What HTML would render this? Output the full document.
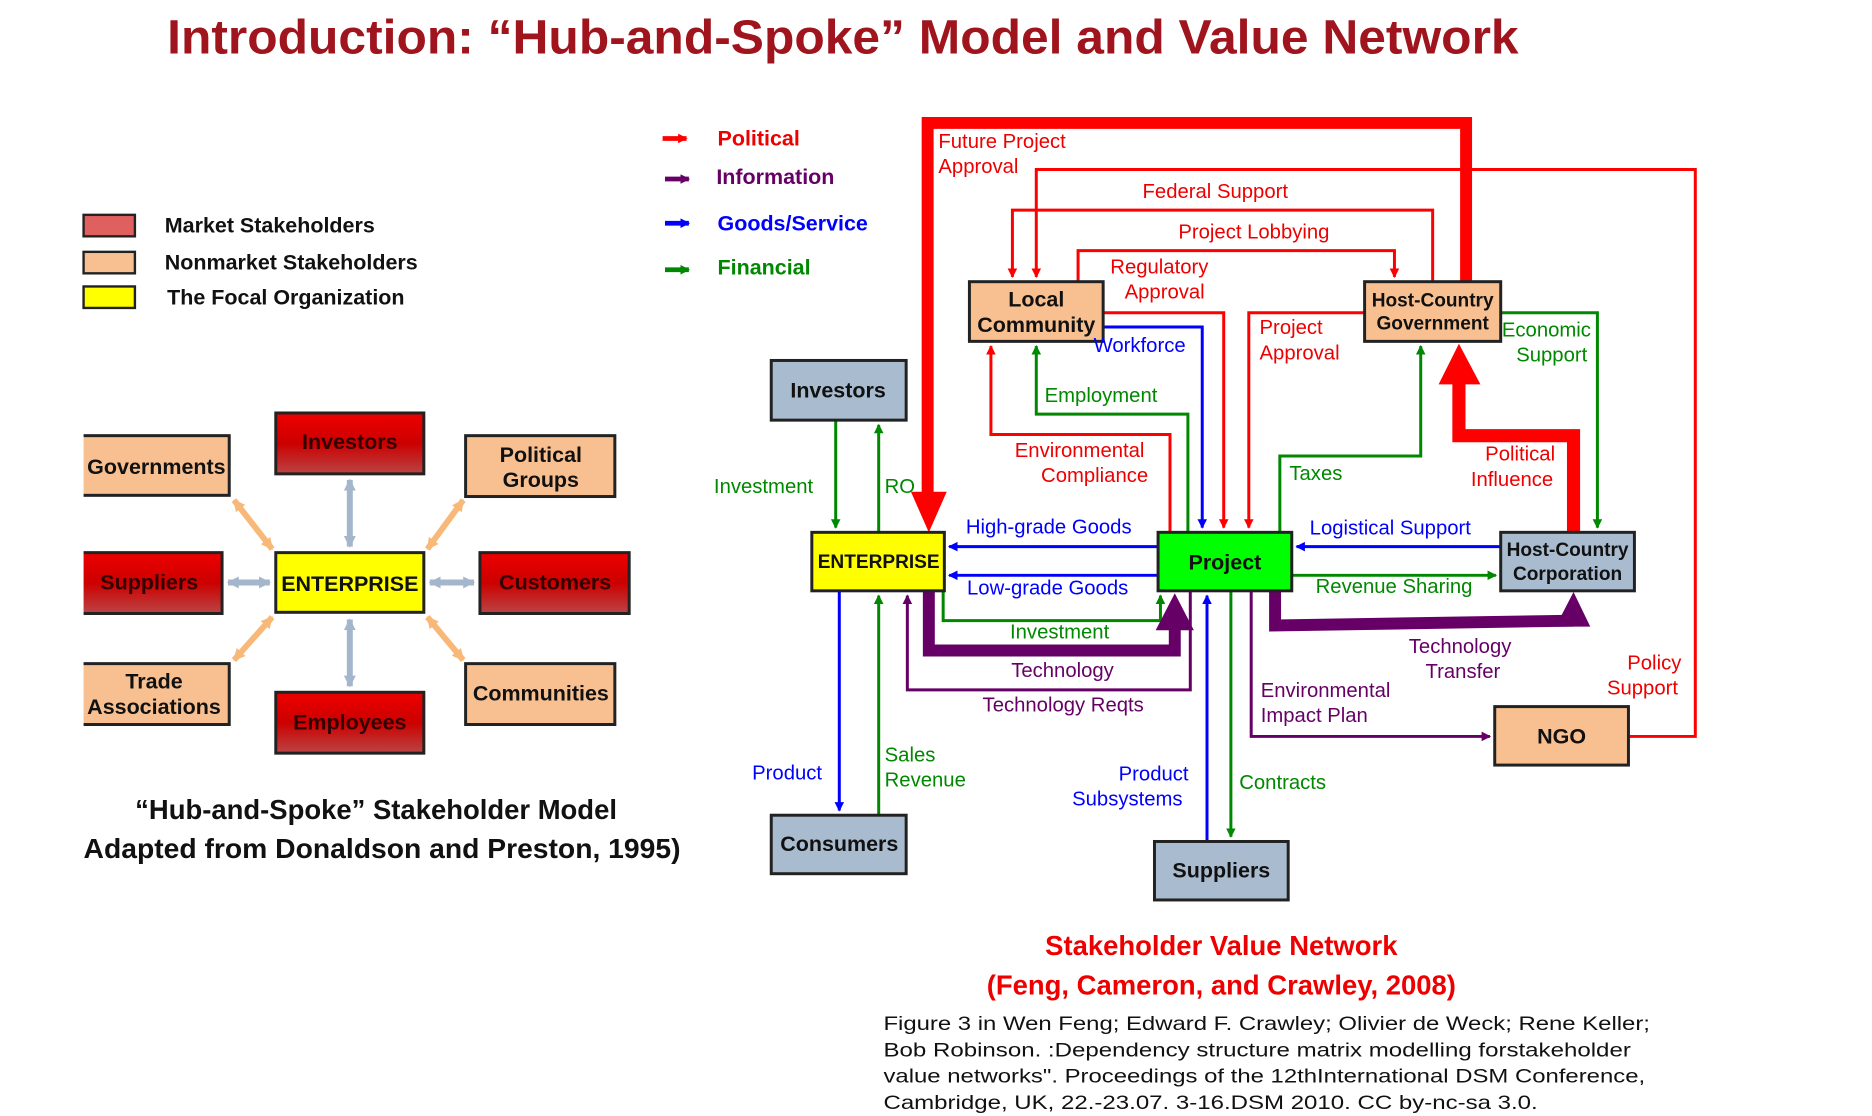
<!DOCTYPE html>
<html><head><meta charset="utf-8"><style>
html,body{margin:0;padding:0;background:#fff;}
svg{display:block;}
text{font-family:"Liberation Sans",sans-serif;}
</style></head><body>
<svg width="1872" height="1116" viewBox="0 0 1568 935" preserveAspectRatio="none" xmlns="http://www.w3.org/2000/svg">
<defs>
<marker id="ar" markerWidth="8" markerHeight="8" refX="7" refY="4" orient="auto" markerUnits="userSpaceOnUse"><path d="M0,0 L8,4 L0,8 z" fill="#f00"/></marker>
<marker id="ab" markerWidth="8" markerHeight="8" refX="7" refY="4" orient="auto" markerUnits="userSpaceOnUse"><path d="M0,0 L8,4 L0,8 z" fill="#00f"/></marker>
<marker id="ag" markerWidth="8" markerHeight="8" refX="7" refY="4" orient="auto" markerUnits="userSpaceOnUse"><path d="M0,0 L8,4 L0,8 z" fill="#080"/></marker>
<marker id="ap" markerWidth="8" markerHeight="8" refX="7" refY="4" orient="auto" markerUnits="userSpaceOnUse"><path d="M0,0 L8,4 L0,8 z" fill="#606"/></marker>
<marker id="al" markerWidth="10" markerHeight="10" refX="9" refY="5" orient="auto-start-reverse" markerUnits="userSpaceOnUse"><path d="M0,0 L10,5 L0,10 z" fill="#a3b6cb"/></marker>
<marker id="ao" markerWidth="10" markerHeight="10" refX="9" refY="5" orient="auto-start-reverse" markerUnits="userSpaceOnUse"><path d="M0,0 L10,5 L0,10 z" fill="#f8b878"/></marker>
<linearGradient id="red" x1="0" y1="0" x2="0" y2="1"><stop offset="0" stop-color="#e00"/><stop offset="0.5" stop-color="#c00"/><stop offset="1" stop-color="#b44"/></linearGradient>
</defs>

<text x="140" y="45" font-size="40" font-weight="bold" fill="#a0141e" textLength="1132" lengthAdjust="spacingAndGlyphs">Introduction: “Hub-and-Spoke” Model and Value Network</text>

<rect x="70" y="180" width="43" height="18" fill="#e06060" stroke="#222" stroke-width="2"/>
<rect x="70" y="211" width="43" height="18" fill="#f8c090" stroke="#222" stroke-width="2"/>
<rect x="70" y="240" width="43" height="18" fill="#ff0" stroke="#222" stroke-width="2"/>
<g font-size="18" font-weight="bold" fill="#111">
<text x="138" y="195">Market Stakeholders</text>
<text x="138" y="226">Nonmarket Stakeholders</text>
<text x="140" y="255">The Focal Organization</text>
</g>

<g stroke-width="5" fill="none">
<line x1="293" y1="402" x2="293" y2="458" stroke="#a3b6cb" marker-start="url(#al)" marker-end="url(#al)"/>
<line x1="293" y1="519" x2="293" y2="575" stroke="#a3b6cb" marker-start="url(#al)" marker-end="url(#al)"/>
<line x1="191" y1="488" x2="226" y2="488" stroke="#a3b6cb" marker-start="url(#al)" marker-end="url(#al)"/>
<line x1="360" y1="488" x2="397" y2="488" stroke="#a3b6cb" marker-start="url(#al)" marker-end="url(#al)"/>
<line x1="196" y1="419" x2="228" y2="460" stroke="#f8b878" marker-start="url(#ao)" marker-end="url(#ao)"/>
<line x1="388" y1="419" x2="358" y2="460" stroke="#f8b878" marker-start="url(#ao)" marker-end="url(#ao)"/>
<line x1="228" y1="517" x2="196" y2="553" stroke="#f8b878" marker-start="url(#ao)" marker-end="url(#ao)"/>
<line x1="358" y1="517" x2="388" y2="553" stroke="#f8b878" marker-start="url(#ao)" marker-end="url(#ao)"/>
</g>
<g stroke="#222" stroke-width="2.5">
<rect x="66" y="365" width="126" height="50" fill="#f8c090"/>
<rect x="231" y="346" width="124" height="51" fill="url(#red)"/>
<rect x="390" y="365" width="125" height="51" fill="#f8c090"/>
<rect x="66" y="463" width="120" height="51" fill="url(#red)"/>
<rect x="231" y="463" width="124" height="50" fill="#ff0"/>
<rect x="402" y="463" width="125" height="51" fill="url(#red)"/>
<rect x="66" y="556" width="126" height="51" fill="#f8c090"/>
<rect x="231" y="580" width="124" height="51" fill="url(#red)"/>
<rect x="390" y="556" width="125" height="51" fill="#f8c090"/>
</g>
<g font-size="18" font-weight="bold" fill="#111" text-anchor="middle">
<text x="131" y="397">Governments</text>
<text x="293" y="376" fill="#300">Investors</text>
<text x="453" y="387">Political</text><text x="453" y="408">Groups</text>
<text x="125" y="494" fill="#300">Suppliers</text>
<text x="293" y="495">ENTERPRISE</text>
<text x="465" y="494" fill="#300">Customers</text>
<text x="129" y="577">Trade</text><text x="129" y="598">Associations</text>
<text x="293" y="611" fill="#300">Employees</text>
<text x="453" y="587">Communities</text>
</g>
<rect x="55" y="340" width="15" height="300" fill="#fff"/>
<g font-size="23" font-weight="bold" fill="#111">
<text x="315" y="686" text-anchor="middle">“Hub-and-Spoke” Stakeholder Model</text>
<text x="70" y="719" textLength="500" lengthAdjust="spacingAndGlyphs">Adapted from Donaldson and Preston, 1995)</text>
</g>

<g stroke-width="4">
<line x1="555" y1="116" x2="575" y2="116" stroke="#f00" marker-end="url(#ar)"/>
<line x1="557" y1="150" x2="577" y2="150" stroke="#606" marker-end="url(#ap)"/>
<line x1="557" y1="187" x2="577" y2="187" stroke="#00f" marker-end="url(#ab)"/>
<line x1="557" y1="226" x2="577" y2="226" stroke="#080" marker-end="url(#ag)"/>
</g>
<g font-size="18" font-weight="bold">
<text x="601" y="122" fill="#e00">Political</text>
<text x="600" y="154" fill="#606">Information</text>
<text x="601" y="193" fill="#00f">Goods/Service</text>
<text x="601" y="230" fill="#080">Financial</text>
</g>

<g fill="none" stroke-width="2.5">
<polyline points="1364,617 1420,617 1420,142 868,142 868,232" stroke="#f00" marker-end="url(#ar)"/>
<polyline points="1200,236 1200,176 848,176 848,232" stroke="#f00" marker-end="url(#ar)"/>
<polyline points="903,236 903,210 1168,210 1168,232" stroke="#f00" marker-end="url(#ar)"/>
<polyline points="924,262 1025,262 1025,442" stroke="#f00" marker-end="url(#ar)"/>
<polyline points="1143,262 1046,262 1046,442" stroke="#f00" marker-end="url(#ar)"/>
<polyline points="924,274 1007,274 1007,442" stroke="#00f" marker-end="url(#ab)"/>
<polyline points="995,446 995,347 868,347 868,290" stroke="#080" marker-end="url(#ag)"/>
<polyline points="980,446 980,364 830,364 830,290" stroke="#f00" marker-end="url(#ar)"/>
<polyline points="1072,446 1072,382 1190,382 1190,290" stroke="#080" marker-end="url(#ag)"/>
<polyline points="1257,262 1338,262 1338,442" stroke="#080" marker-end="url(#ag)"/>
<line x1="970" y1="458" x2="795" y2="458" stroke="#00f" marker-end="url(#ab)"/>
<line x1="970" y1="482" x2="795" y2="482" stroke="#00f" marker-end="url(#ab)"/>
<line x1="1257" y1="458" x2="1086" y2="458" stroke="#00f" marker-end="url(#ab)"/>
<line x1="1082" y1="482" x2="1253" y2="482" stroke="#080" marker-end="url(#ag)"/>
<line x1="700" y1="352" x2="700" y2="442" stroke="#080" marker-end="url(#ag)"/>
<line x1="736" y1="446" x2="736" y2="356" stroke="#080" marker-end="url(#ag)"/>
<line x1="703" y1="495" x2="703" y2="679" stroke="#00f" marker-end="url(#ab)"/>
<line x1="736" y1="683" x2="736" y2="499" stroke="#080" marker-end="url(#ag)"/>
<polyline points="790,495 790,520 972,520 972,499" stroke="#080" marker-end="url(#ag)"/>
<polyline points="997,495 997,578 760,578 760,499" stroke="#606" marker-end="url(#ap)"/>
<polyline points="1048,495 1048,617 1248,617" stroke="#606" marker-end="url(#ap)"/>
<line x1="1011" y1="705" x2="1011" y2="499" stroke="#00f" marker-end="url(#ab)"/>
<line x1="1031" y1="495" x2="1031" y2="701" stroke="#080" marker-end="url(#ag)"/>
</g>
<polyline points="777,420 777,103 1228,103 1228,236" fill="none" stroke="#f00" stroke-width="10"/>
<polygon points="763,412 793,412 778,446" fill="#f00"/>
<polyline points="1318,446 1318,365 1222,365 1222,318" fill="none" stroke="#f00" stroke-width="11"/>
<polygon points="1205,322 1240,322 1222,288" fill="#f00"/>
<polyline points="778,495 778,545 984,545 984,525" fill="none" stroke="#606" stroke-width="10"/>
<polygon points="968,528 1000,528 984,497" fill="#606"/>
<polyline points="1068,495 1068,524 1318,520" fill="none" stroke="#606" stroke-width="10"/>
<polygon points="1303,525 1332,525 1318,496" fill="#606"/>

<g stroke="#222" stroke-width="2.5">
<rect x="812" y="236" width="112" height="50" fill="#f8c090"/>
<rect x="1143" y="236" width="114" height="50" fill="#f8c090"/>
<rect x="646" y="302" width="113" height="50" fill="#a9bccf"/>
<rect x="680" y="446" width="111" height="49" fill="#ff0"/>
<rect x="970" y="446" width="112" height="49" fill="#0f0"/>
<rect x="1257" y="446" width="112" height="49" fill="#a9bccf"/>
<rect x="1252" y="592" width="112" height="49" fill="#f8c090"/>
<rect x="646" y="683" width="113" height="49" fill="#a9bccf"/>
<rect x="967" y="705" width="112" height="49" fill="#a9bccf"/>
</g>
<g font-weight="bold" fill="#111" text-anchor="middle">
<text x="868" y="257" font-size="18">Local</text><text x="868" y="278" font-size="18">Community</text>
<text x="1200" y="257" font-size="16">Host-Country</text><text x="1200" y="276" font-size="16">Government</text>
<text x="702" y="333" font-size="18">Investors</text>
<text x="736" y="476" font-size="16">ENTERPRISE</text>
<text x="1026" y="477" font-size="18">Project</text>
<text x="1313" y="466" font-size="16">Host-Country</text><text x="1313" y="486" font-size="16">Corporation</text>
<text x="1308" y="623" font-size="18">NGO</text>
<text x="703" y="713" font-size="18">Consumers</text>
<text x="1023" y="735" font-size="18">Suppliers</text>
</g>

<g font-size="17">
<g fill="#e00">
<text x="786" y="124">Future Project</text><text x="786" y="145">Approval</text>
<text x="957" y="166">Federal Support</text>
<text x="987" y="200">Project Lobbying</text>
<text x="930" y="229">Regulatory</text><text x="942" y="250">Approval</text>
<text x="1055" y="280">Project</text><text x="1055" y="301">Approval</text>
<text x="850" y="383">Environmental</text><text x="872" y="404">Compliance</text>
<text x="1244" y="386">Political</text><text x="1232" y="407">Influence</text>
<text x="1363" y="561">Policy</text><text x="1346" y="582">Support</text>
</g>
<g fill="#080">
<text x="875" y="337">Employment</text>
<text x="1258" y="282">Economic</text><text x="1270" y="303">Support</text>
<text x="1080" y="402">Taxes</text>
<text x="598" y="413">Investment</text>
<text x="741" y="413">RO</text>
<text x="1102" y="497">Revenue Sharing</text>
<text x="846" y="535">Investment</text>
<text x="741" y="638">Sales</text><text x="741" y="659">Revenue</text>
<text x="1038" y="661">Contracts</text>
</g>
<g fill="#00f">
<text x="916" y="295">Workforce</text>
<text x="809" y="447">High-grade Goods</text>
<text x="810" y="498">Low-grade Goods</text>
<text x="1097" y="448">Logistical Support</text>
<text x="630" y="653">Product</text>
<text x="937" y="654">Product</text><text x="898" y="675">Subsystems</text>
</g>
<g fill="#606">
<text x="847" y="567">Technology</text>
<text x="823" y="596">Technology Reqts</text>
<text x="1180" y="547">Technology</text><text x="1194" y="568">Transfer</text>
<text x="1056" y="584">Environmental</text><text x="1056" y="605">Impact Plan</text>
</g>
</g>

<g font-size="23" font-weight="bold" fill="#e00" text-anchor="middle">
<text x="1023" y="800">Stakeholder Value Network</text>
<text x="1023" y="833">(Feng, Cameron, and Crawley, 2008)</text>
</g>
<g font-size="16.5" fill="#111">
<text x="740" y="863" textLength="642" lengthAdjust="spacingAndGlyphs">Figure 3 in Wen Feng; Edward F. Crawley; Olivier de Weck; Rene Keller;</text>
<text x="740" y="885" textLength="626" lengthAdjust="spacingAndGlyphs">Bob Robinson. :Dependency structure matrix modelling forstakeholder</text>
<text x="740" y="907" textLength="638" lengthAdjust="spacingAndGlyphs">value networks". Proceedings of the 12thInternational DSM Conference,</text>
<text x="740" y="929" textLength="548" lengthAdjust="spacingAndGlyphs">Cambridge, UK, 22.-23.07. 3-16.DSM 2010. CC by-nc-sa 3.0.</text>
</g>
</svg>
</body></html>
